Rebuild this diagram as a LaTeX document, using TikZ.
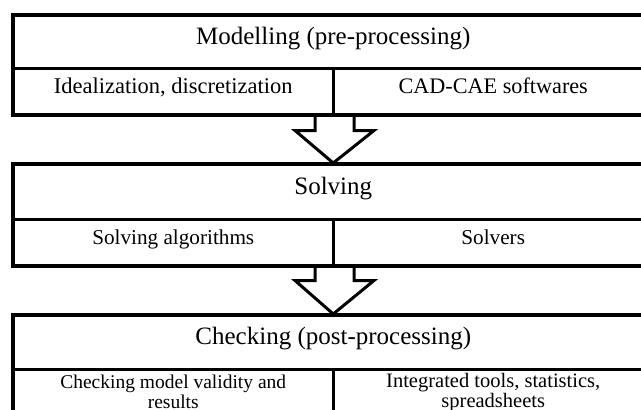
\documentclass[tikz,border=0pt]{standalone}
\usepackage{fontspec}
\setmainfont{Liberation Serif}
\usetikzlibrary{calc}
\tikzset{
  headcell/.style={draw=black, line width=2.5pt, anchor=north west, minimum width=640pt, minimum height=#1, inner sep=0pt, text height=0.68em, text depth=0.22em, font=\fontsize{25}{28}\selectfont},
  subcell/.style={draw=black, line width=2.5pt, anchor=north west, minimum width=320pt, minimum height=46pt, inner sep=0pt, align=center},
  oneline/.style={text height=0.68em, text depth=0.22em},
  outerbox/.style={draw=black, line width=3pt},
  bigarrow/.style={draw=black, line width=3pt, line join=miter}
}
\begin{document}
\begin{tikzpicture}[x=1pt,y=-1pt]
\clip (0,0) rectangle (641,410);
\fill[white] (0,0) rectangle (641,410);
% block 1
\node[headcell=53pt] (m) at (12,14) {Modelling (pre-processing)};
\node[subcell, oneline, font=\fontsize{22.5}{24}\selectfont] (m1) at (12,67) {Idealization, discretization};
\node[subcell, oneline, font=\fontsize{22.2}{24}\selectfont] (m2) at (332,67) {CAD-CAE softwares};
\draw[outerbox] (m.north west) rectangle (m2.south east);
% block 2
\node[headcell=55pt, text depth=0.1em] (s) at (12,163) {Solving};
\node[subcell, oneline, font=\fontsize{21.2}{24}\selectfont] (s1) at (12,218) {Solving algorithms};
\node[subcell, oneline, font=\fontsize{21.2}{24}\selectfont] (s2) at (332,218) {Solvers};
\draw[outerbox] (s.north west) rectangle (s2.south east);
% block 3
\node[headcell=54pt] (c) at (12,314) {Checking (post-processing)};
\node[subcell, font=\fontsize{19.5}{20}\selectfont] (c1) at (12,368) {Checking model validity and\\results};
\node[subcell, font=\fontsize{20.5}{20}\selectfont] (c2) at (332,368) {Integrated tools, statistics,\\spreadsheets};
\draw[outerbox] (c.north west) rectangle (c2.south east);
% arrows
\coordinate (a1) at (m1.south east);
\draw[bigarrow] ([xshift=-19.5pt]a1) -- ([xshift=-19.5pt,yshift=-15pt]a1) -- ([xshift=-39.5pt,yshift=-15pt]a1) -- (s.north) -- ([xshift=39.5pt,yshift=-15pt]a1) -- ([xshift=19.5pt,yshift=-15pt]a1) -- ([xshift=19.5pt]a1);
\coordinate (a2) at (s1.south east);
\draw[bigarrow] ([xshift=-19.5pt]a2) -- ([xshift=-19.5pt,yshift=-14pt]a2) -- ([xshift=-39.5pt,yshift=-14pt]a2) -- (c.north) -- ([xshift=39.5pt,yshift=-14pt]a2) -- ([xshift=19.5pt,yshift=-14pt]a2) -- ([xshift=19.5pt]a2);
\end{tikzpicture}
\end{document}
